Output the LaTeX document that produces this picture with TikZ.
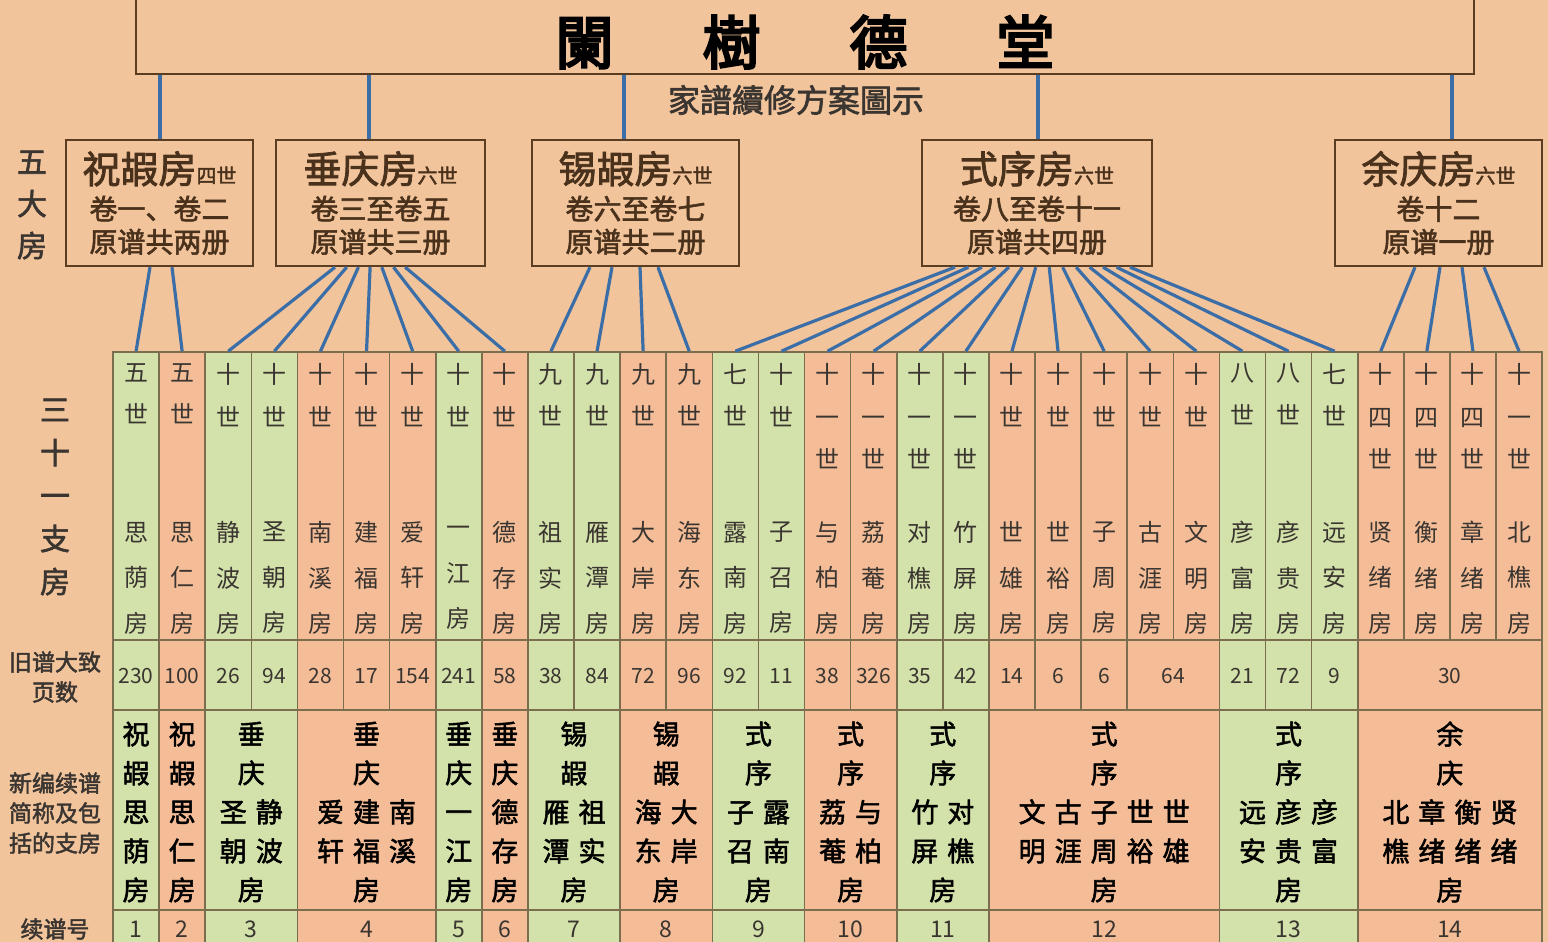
\documentclass[tikz,border=0pt]{standalone}
\usepackage{fontspec}
\setmainfont{Noto Sans CJK SC}
\newfontfamily\cjkbold{Noto Sans CJK SC}[FakeBold=2]
\newfontfamily\cjkheavy{Noto Sans CJK SC}[FakeBold=4]
\usetikzlibrary{positioning,calc}
\definecolor{peach}{HTML}{F2C49C}
\definecolor{cellorg}{HTML}{F5BD97}
\definecolor{cellgrn}{HTML}{D3E2AA}
\definecolor{linkblue}{HTML}{3B6EA6}
\definecolor{boxbrown}{HTML}{5B3D22}
\definecolor{gridline}{HTML}{7A6E4E}
\definecolor{inkgray}{HTML}{3A3530}

\newcommand\cgap{\hspace{4.5pt}}
\newcommand\boxhead[2]{{\cjkbold\fontsize{19}{19}\selectfont #1}{\cjkbold\fontsize{10}{10}\selectfont #2}}

\tikzset{
  housebox/.style={draw=boxbrown, line width=1.2pt, minimum height=63pt, inner sep=0pt,
    align=center, text=boxbrown!80!black, font=\cjkbold\fontsize{14}{16.5}\selectfont},
  link/.style={draw=linkblue, line width=1.6pt},
  gridrule/.style={draw=gridline, line width=0.8pt},
  cellbox/.style={gridrule, minimum width=23.05pt, minimum height=144pt, inner sep=0pt},
  gentext/.style={anchor=north, align=center, inner sep=0pt, text=inkgray,
    font=\fontsize{12}{21.25}\selectfont},
  nametext/.style={align=center, inner sep=0pt, text=inkgray,
    font=\fontsize{12}{22.75}\selectfont},
  pagenum/.style={inner sep=0pt, text=inkgray, font=\fontsize{10.5}{10.5}\selectfont},
  grouptext/.style={align=center, inner sep=0pt, text=black,
    font=\cjkbold\fontsize{13.5}{19.5}\selectfont},
  sidelabel/.style={align=center, inner sep=0pt, text=inkgray}
}

\begin{document}
\begin{tikzpicture}[x=0.5pt, y=-0.5pt]
\useasboundingbox (0,0) rectangle (1548,942);
\fill[peach] (0,0) rectangle (1548,942);

% hall and title
\node[draw=boxbrown, line width=1.2pt, minimum width=669pt, minimum height=42pt, inner sep=0pt] (hall) at (805,32) {};
\node[font=\cjkheavy\fontsize{29}{29}\selectfont] (title) at (805,42) {闌\hspace{44.5pt}樹\hspace{44.5pt}德\hspace{44.5pt}堂};
\node[font=\cjkbold\fontsize{16}{16}\selectfont, text=inkgray] (subtitle) at (796,100) {家譜續修方案圖示};

% five main houses
\node[housebox, minimum width=93.5pt] (b1) at (159.5,203) {\boxhead{祝嘏房}{四世}\\[1.6pt]卷一、卷二\\原谱共两册};
\node[housebox, minimum width=104.5pt] (b2) at (380.5,203) {\boxhead{垂庆房}{六世}\\[1.6pt]卷三至卷五\\原谱共三册};
\node[housebox, minimum width=103.5pt] (b3) at (635.5,203) {\boxhead{锡嘏房}{六世}\\[1.6pt]卷六至卷七\\原谱共二册};
\node[housebox, minimum width=115pt] (b4) at (1037,203) {\boxhead{式序房}{六世}\\[1.6pt]卷八至卷十一\\原谱共四册};
\node[housebox, minimum width=103.5pt] (b5) at (1438.5,203) {\boxhead{余庆房}{六世}\\[1.6pt]卷十二\\原谱一册};

\foreach \b/\s in {b1/0.25, b2/-5.75, b3/-5.75, b4/0.5, b5/6.75} {
  \coordinate (t\b) at ([xshift=\s pt]\b.north);
  \draw[link] (t\b) -- (t\b |- hall.south);
}

% side labels
\node[sidelabel, font=\cjkbold\fontsize{15}{21}\selectfont] (wuda) at (32,205) {五\\大\\房};
\node[sidelabel, font=\cjkbold\fontsize{15}{21.5}\selectfont] (sanshiyi) at (55,497) {三\\十\\一\\支\\房};
\node[sidelabel, font=\cjkbold\fontsize{11.5}{15}\selectfont] (jiupu) at (55,677) {旧谱大致\\页数};
\node[sidelabel, font=\cjkbold\fontsize{11.5}{15}\selectfont] (xinbian) at (55,813) {新编续谱\\简称及包\\括的支房};
\node[sidelabel, font=\cjkbold\fontsize{11.5}{15}\selectfont] (xupuhao) at (55,929) {续谱号};

% thirty-one branches
\foreach \i/\c/\g/\n in {
  1/grn/{五\\世}/{思\\荫\\房}, 2/org/{五\\世}/{思\\仁\\房},
  3/grn/{十\\世}/{静\\波\\房}, 4/grn/{十\\世}/{圣\\朝\\房},
  5/org/{十\\世}/{南\\溪\\房}, 6/org/{十\\世}/{建\\福\\房},
  7/org/{十\\世}/{爱\\轩\\房}, 8/grn/{十\\世}/{一\\江\\房},
  9/org/{十\\世}/{德\\存\\房}, 10/grn/{九\\世}/{祖\\实\\房},
  11/grn/{九\\世}/{雁\\潭\\房}, 12/org/{九\\世}/{大\\岸\\房},
  13/org/{九\\世}/{海\\东\\房}, 14/grn/{七\\世}/{露\\南\\房},
  15/grn/{十\\世}/{子\\召\\房}, 16/org/{十\\一\\世}/{与\\柏\\房},
  17/org/{十\\一\\世}/{荔\\菴\\房}, 18/grn/{十\\一\\世}/{对\\樵\\房},
  19/grn/{十\\一\\世}/{竹\\屏\\房}, 20/org/{十\\世}/{世\\雄\\房},
  21/org/{十\\世}/{世\\裕\\房}, 22/org/{十\\世}/{子\\周\\房},
  23/org/{十\\世}/{古\\涯\\房}, 24/org/{十\\世}/{文\\明\\房},
  25/grn/{八\\世}/{彦\\富\\房}, 26/grn/{八\\世}/{彦\\贵\\房},
  27/grn/{七\\世}/{远\\安\\房}, 28/org/{十\\四\\世}/{贤\\绪\\房},
  29/org/{十\\四\\世}/{衡\\绪\\房}, 30/org/{十\\四\\世}/{章\\绪\\房},
  31/org/{十\\一\\世}/{北\\樵\\房}} {
  \node[cellbox, fill=cell\c] (c\i) at ({113+46.1*(\i-0.5)},496) {};
  \node[gentext] (gen\i) at ({113+46.1*(\i-0.5)},363) {\g};
  \node[nametext] (name\i) at ({113+46.1*(\i-0.5)},578) {\n};
}

% links from houses to branches
\foreach \i/\s in {1/-4.75, 2/6.25}
  \draw[link] ([xshift=\s pt]b1.south) -- (c\i.north);
\foreach \i [evaluate=\i as \s using {(-45.5+11.7*(\i-3))/2}] in {3,...,9}
  \draw[link] ([xshift=\s pt]b2.south) -- (c\i.north);
\foreach \i/\s in {10/-22.75, 11/-11.75, 12/2.25, 13/11.25}
  \draw[link] ([xshift=\s pt]b3.south) -- (c\i.north);
\foreach \i [evaluate=\i as \s using {(-82+13.46*(\i-14))/2}] in {14,...,27}
  \draw[link] ([xshift=\s pt]b4.south) -- (c\i.north);
\foreach \i/\s in {28/-11.75, 29/0.75, 30/11.75, 31/22.75}
  \draw[link] ([xshift=\s pt]b5.south) -- (c\i.north);

% new volumes
\foreach \g/\a/\b/\c/\t in {
  1/1/1/grn/{祝\\嘏\\思\\荫\\房},
  2/2/2/org/{祝\\嘏\\思\\仁\\房},
  3/3/4/grn/{垂\\庆\\圣\cgap 静\\朝\cgap 波\\房},
  4/5/7/org/{垂\\庆\\爱\cgap 建\cgap 南\\轩\cgap 福\cgap 溪\\房},
  5/8/8/grn/{垂\\庆\\一\\江\\房},
  6/9/9/org/{垂\\庆\\德\\存\\房},
  7/10/11/grn/{锡\\嘏\\雁\cgap 祖\\潭\cgap 实\\房},
  8/12/13/org/{锡\\嘏\\海\cgap 大\\东\cgap 岸\\房},
  9/14/15/grn/{式\\序\\子\cgap 露\\召\cgap 南\\房},
  10/16/17/org/{式\\序\\荔\cgap 与\\菴\cgap 柏\\房},
  11/18/19/grn/{式\\序\\竹\cgap 对\\屏\cgap 樵\\房},
  12/20/24/org/{式\\序\\文\cgap 古\cgap 子\cgap 世\cgap 世\\明\cgap 涯\cgap 周\cgap 裕\cgap 雄\\房},
  13/25/27/grn/{式\\序\\远\cgap 彦\cgap 彦\\安\cgap 贵\cgap 富\\房},
  14/28/31/org/{余\\庆\\北\cgap 章\cgap 衡\cgap 贤\\樵\cgap 绪\cgap 绪\cgap 绪\\房}} {
  \fill[cell\c] ({113+46.1*(\a-1)},640) rectangle ({113+46.1*\b},942);
  \node[grouptext] (g\g) at ({113+46.1*(\a+\b-1)/2},812) {\t};
  \node[pagenum, font=\fontsize{11.5}{11.5}\selectfont] (n\g) at ({113+46.1*(\a+\b-1)/2},929) {\g};
}

% old page counts
\foreach \a/\b/\v in {1/1/230, 2/2/100, 3/3/26, 4/4/94, 5/5/28, 6/6/17, 7/7/154,
  8/8/241, 9/9/58, 10/10/38, 11/11/84, 12/12/72, 13/13/96, 14/14/92, 15/15/11,
  16/16/38, 17/17/326, 18/18/35, 19/19/42, 20/20/14, 21/21/6, 22/22/6, 23/24/64,
  25/25/21, 26/26/72, 27/27/9, 28/31/30}
  \node[pagenum] (p\a) at ({113+46.1*(\a+\b-1)/2},676) {\v};

% table rules
\foreach \y in {640,710,910}
  \draw[gridrule] (113,\y) -- (1542,\y);
\foreach \k in {0,...,22,24,25,26,27,31}
  \draw[gridrule] ({113+46.1*\k},640) -- ({113+46.1*\k},710);
\foreach \k in {0,1,2,4,7,8,9,11,13,15,17,19,24,27,31}
  \draw[gridrule] ({113+46.1*\k},710) -- ({113+46.1*\k},942);
\end{tikzpicture}
\end{document}
